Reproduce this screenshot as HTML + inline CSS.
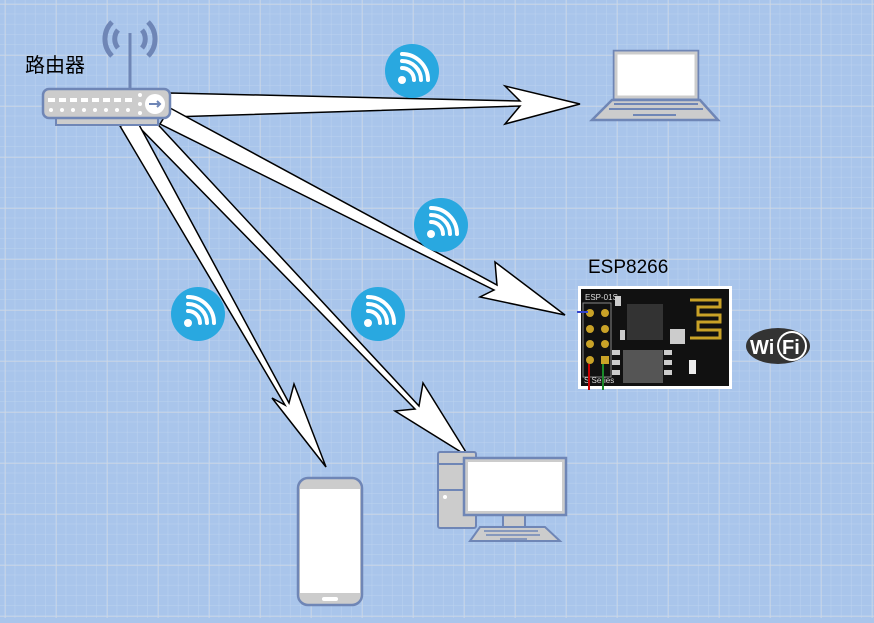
<!DOCTYPE html>
<html><head><meta charset="utf-8"><style>
html,body{margin:0;padding:0;}
body{width:874px;height:618px;overflow:hidden;background:#a9c5eb;}
</style></head><body>
<svg width="874" height="618" viewBox="0 0 874 618" xmlns="http://www.w3.org/2000/svg" font-family="Liberation Sans, Noto Sans CJK SC, sans-serif">
<defs>
<pattern id="minor" x="5" y="4" width="10.2" height="10.2" patternUnits="userSpaceOnUse"><path d="M10.2 0V10.2H0" fill="none" stroke="#bcd2ef" stroke-width="1"/></pattern>
<pattern id="major" x="5" y="4" width="51" height="51" patternUnits="userSpaceOnUse"><path d="M0 0V51M0 0H51" fill="none" stroke="#d0d8e4" stroke-width="1.2"/></pattern>
<g id="wifi"><circle r="27" fill="#29a8e0"/><circle cx="-10" cy="9" r="4" fill="#fff"/><g fill="none" stroke="#fff" stroke-width="4" stroke-linecap="round"><path d="M-10 -3 A12 12 0 0 1 2 9"/><path d="M-10 -10 A19 19 0 0 1 9 9"/><path d="M-10 -17 A26 26 0 0 1 16 9"/></g></g>
</defs>
<rect width="874" height="618" fill="url(#minor)"/>
<rect width="874" height="618" fill="url(#major)"/>

<!-- arrows -->
<g fill="#fff" stroke="#000" stroke-width="1.5" stroke-linejoin="miter">
<polygon points="170,93 520,101 505,86 580,104 505,124 520,106 170,117"/>
<polygon points="170,108 497,285 495,262 565,315 480,297 494,290 160,124"/>
<polygon points="150,116 419,406 423,383 469,457 395,411 415,409 136,124"/>
<polygon points="137,121 289,403 294,384 326,467 272,398 285,405 120,126"/>
</g>

<!-- router -->
<g>
<path d="M118 30 A14 14 0 0 0 118 48 M112 22 A24 24 0 0 0 112 56 M142 30 A14 14 0 0 1 142 48 M148 22 A24 24 0 0 1 148 56" fill="none" stroke="#6f86b6" stroke-width="5"/>
<line x1="130" y1="33" x2="130" y2="90" stroke="#6f86b6" stroke-width="3"/>
<rect x="56" y="115" width="102" height="10" fill="#ccc" stroke="#6f86b6" stroke-width="2"/>
<rect x="43" y="89" width="127" height="29" rx="6" fill="#ccc" stroke="#6f86b6" stroke-width="2.5"/>
<circle cx="155" cy="104" r="10" fill="#fff"/>
<path d="M149 104H160M157 101L160 104L157 107" stroke="#6f86b6" stroke-width="2" fill="none"/>
<g fill="#fff"><rect x="48" y="98" width="7" height="4"/><rect x="59" y="98" width="7" height="4"/><rect x="70" y="98" width="7" height="4"/><rect x="81" y="98" width="7" height="4"/><rect x="92" y="98" width="7" height="4"/><rect x="103" y="98" width="7" height="4"/><rect x="114" y="98" width="7" height="4"/><rect x="125" y="98" width="7" height="4"/>
<circle cx="51" cy="110" r="2"/><circle cx="62" cy="110" r="2"/><circle cx="73" cy="110" r="2"/><circle cx="84" cy="110" r="2"/><circle cx="95" cy="110" r="2"/><circle cx="106" cy="110" r="2"/><circle cx="117" cy="110" r="2"/><circle cx="128" cy="110" r="2"/>
<circle cx="140" cy="95" r="2"/><circle cx="140" cy="104" r="2"/><circle cx="140" cy="113" r="2"/></g>
</g>
<text x="25" y="72" font-size="20" fill="#000">路由器</text>

<!-- wifi icons -->
<use href="#wifi" x="412" y="71"/>
<use href="#wifi" x="441" y="225"/>
<use href="#wifi" x="198" y="314"/>
<use href="#wifi" x="378" y="314"/>

<!-- laptop -->
<rect x="614" y="51" width="84" height="48" fill="#fff" stroke="#6f86b6" stroke-width="2.5"/>
<rect x="616" y="53" width="80" height="44" fill="none" stroke="#ccc" stroke-width="3"/>
<polygon points="612,100 700,100 718,120 592,120" fill="#ccc" stroke="#6f86b6" stroke-width="2.5"/>
<path d="M614 104H698M609 109H703M633 115H676" stroke="#6f86b6" stroke-width="2"/>

<!-- ESP8266 -->
<text x="588" y="273" font-size="19" fill="#000">ESP8266</text>
<rect x="578" y="286" width="154" height="103" fill="#fff"/>
<rect x="581" y="289" width="148" height="97" fill="#111"/>
<text x="585" y="300" font-size="8" fill="#ddd">ESP-01S</text>
<rect x="583" y="303" width="28" height="74" fill="none" stroke="#888" stroke-width="1"/>
<g fill="#c9a227"><circle cx="590" cy="313" r="4"/><circle cx="605" cy="313" r="4"/><circle cx="590" cy="329" r="4"/><circle cx="605" cy="329" r="4"/><circle cx="590" cy="344" r="4"/><circle cx="605" cy="344" r="4"/><circle cx="590" cy="360" r="4"/><rect x="601" y="356" width="8" height="8"/></g>
<g fill="#ccc"><rect x="615" y="296" width="6" height="10"/><rect x="620" y="330" width="5" height="10"/><rect x="664" y="350" width="8" height="5"/><rect x="664" y="360" width="8" height="5"/><rect x="664" y="370" width="8" height="5"/><rect x="612" y="350" width="8" height="5"/><rect x="612" y="360" width="8" height="5"/><rect x="612" y="370" width="8" height="5"/></g>
<rect x="627" y="304" width="36" height="36" fill="#333"/>
<rect x="623" y="350" width="40" height="33" fill="#555"/>
<rect x="670" y="329" width="15" height="15" fill="#ccc"/>
<path d="M690 300H720V307H698V315H720V322H698V330H720V338H690" fill="none" stroke="#c9a227" stroke-width="3"/>
<rect x="689" y="360" width="7" height="14" fill="#eee"/>
<text x="584" y="383" font-size="8" fill="#ddd">S Series</text>
<line x1="577" y1="312" x2="588" y2="312" stroke="#3344cc" stroke-width="2"/>
<line x1="589" y1="364" x2="589" y2="390" stroke="#c00" stroke-width="2"/>
<line x1="603" y1="364" x2="603" y2="390" stroke="#1a8a2a" stroke-width="2"/>

<!-- WiFi logo -->
<ellipse cx="778" cy="346" rx="32" ry="18" fill="#333"/>
<circle cx="792" cy="346" r="15" fill="#fff"/>
<circle cx="792" cy="346" r="13" fill="#333"/>
<text x="750" y="354" font-size="20" font-weight="bold" fill="#fff">Wi</text>
<text x="782" y="354" font-size="20" font-weight="bold" fill="#fff">Fi</text>

<!-- phone -->
<rect x="298" y="478" width="64" height="127" rx="10" fill="#ccc" stroke="#6f86b6" stroke-width="2.5"/>
<rect x="300" y="489" width="60" height="104" fill="#fff"/>
<rect x="322" y="597" width="16" height="4" rx="2" fill="#fff"/>

<!-- desktop -->
<rect x="438" y="452" width="38" height="76" rx="2" fill="#ccc" stroke="#6f86b6" stroke-width="2"/>
<path d="M438 464H476M438 490H476" stroke="#6f86b6" stroke-width="2"/>
<circle cx="445" cy="497" r="2" fill="#fff"/>
<rect x="503" y="515" width="22" height="12" fill="#ccc" stroke="#6f86b6" stroke-width="2"/>
<polygon points="480,527 545,527 560,541 470,541" fill="#ccc" stroke="#6f86b6" stroke-width="2"/>
<path d="M484 531H538M486 535H540M500 539H527" stroke="#6f86b6" stroke-width="1.5"/>
<rect x="464" y="458" width="102" height="57" fill="#ccc" stroke="#6f86b6" stroke-width="2.5"/>
<rect x="468" y="462" width="94" height="49" fill="#fff"/>
</svg>
</body></html>
